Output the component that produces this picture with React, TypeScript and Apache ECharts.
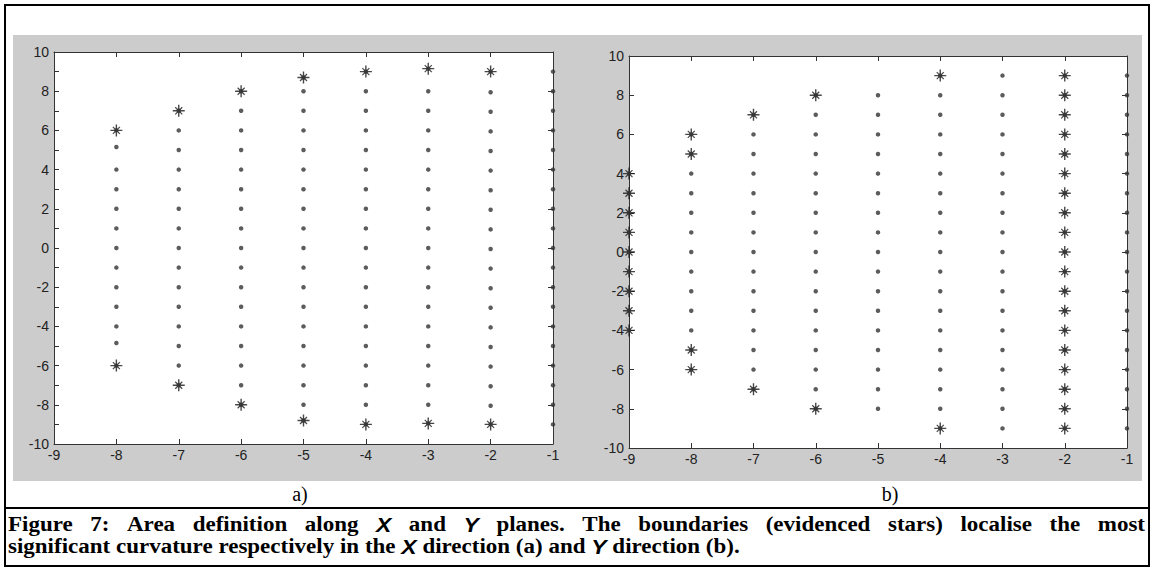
import React, { useEffect, useRef } from "react";
import * as echarts from "echarts";

// ---- axis ticks ----
const xTickValues = [-9, -8, -7, -6, -5, -4, -3, -2, -1];
const yTickValues = [-10, -8, -6, -4, -2, 0, 2, 4, 6, 8, 10];

// ---- panel a) : columns of grid points, boundaries marked by stars ----
const aColumns = [-8, -7, -6, -5, -4, -3, -2, -1];
const aDots: number[][] = [
  [5.15, 4, 3, 2, 1, 0, -1, -2, -3, -4, -4.85],
  [6, 5, 4, 3, 2, 1, 0, -1, -2, -3, -4, -5, -6],
  [7, 6, 5, 4, 3, 2, 1, 0, -1, -2, -3, -4, -5, -6, -7],
  [8, 7, 6, 5, 4, 3, 2, 1, 0, -1, -2, -3, -4, -5, -6, -7, -8],
  [8, 7, 6, 5, 4, 3, 2, 1, 0, -1, -2, -3, -4, -5, -6, -7, -8],
  [8, 7, 6, 5, 4, 3, 2, 1, 0, -1, -2, -3, -4, -5, -6, -7, -8],
  [7.95, 6.95, 5.95, 4.95, 3.95, 2.95, 1.95, 0.95, -0.05, -1.05, -2.05, -3.05, -4.05, -5.05, -6.05, -7.05, -8.05],
  [9, 8, 7, 6, 5, 4, 3, 2, 1, 0, -1, -2, -3, -4, -5, -6, -7, -8, -9],
];
const aStars: number[][] = [
  [6, -6],
  [7, -7],
  [8, -8],
  [8.7, -8.8],
  [9, -9],
  [9.15, -8.95],
  [9, -9],
  [],
];

// ---- panel b) ----
const bColumns = [-9, -8, -7, -6, -5, -4, -3, -2, -1];
const bDots: number[][] = [
  [],
  [4, 3, 2, 1, 0, -1, -2, -3, -4],
  [6, 5, 4, 3, 2, 1, 0, -1, -2, -3, -4, -5, -6],
  [7, 6, 5, 4, 3, 2, 1, 0, -1, -2, -3, -4, -5, -6, -7],
  [8, 7, 6, 5, 4, 3, 2, 1, 0, -1, -2, -3, -4, -5, -6, -7, -8],
  [8, 7, 6, 5, 4, 3, 2, 1, 0, -1, -2, -3, -4, -5, -6, -7, -8],
  [9, 8, 7, 6, 5, 4, 3, 2, 1, 0, -1, -2, -3, -4, -5, -6, -7, -8, -9],
  [],
  [9, 8, 7, 6, 5, 4, 3, 2, 1, 0, -1, -2, -3, -4, -5, -6, -7, -8, -9],
];
const bStars: number[][] = [
  [4, 3, 2, 1, 0, -1, -2, -3, -4],
  [6, 5, -5, -6],
  [7, -7],
  [8, -8],
  [],
  [9, -9],
  [],
  [9, 8, 7, 6, 5, 4, 3, 2, 1, 0, -1, -2, -3, -4, -5, -6, -7, -8, -9],
  [],
];

// ---- texts ----
const panelLabels = ["a)", "b)"];
const captionLine1 = [
  "Figure", "7:", "Area", "definition", "along", "X", "and", "Y", "planes.", "The",
  "boundaries", "(evidenced", "stars)", "localise", "the", "most",
];
const captionLine2 = [
  "significant", "curvature", "respectively", "in", "the", "X", "direction", "(a)",
  "and", "Y", "direction", "(b).",
];
const italicWords = ["X", "Y"];

const STAR_PATH =
  "path://M10.6 0h2.8v24h-2.8z M0 10.6h24v2.8h-24z M5.85 4.15L19.85 18.15L18.15 19.85L4.15 5.85z M18.15 4.15L19.85 5.85L5.85 19.85L4.15 18.15z";

function pairs(cols: number[], ys: number[][]): number[][] {
  const out: number[][] = [];
  cols.forEach((x, i) => ys[i].forEach((y) => out.push([x, y])));
  return out;
}

const AX = "#333333";
const LABEL_FONT = "Liberation Sans";
const CAP_SIZE = 20;
const CAP_SCALE_X = 1.15;

function xAxes(gridIndex: number) {
  const base = {
    type: "value" as const,
    gridIndex,
    min: xTickValues[0],
    max: xTickValues[xTickValues.length - 1],
    interval: 1,
    splitLine: { show: false },
    axisLine: { show: true, onZero: false, lineStyle: { color: AX, width: 1 } },
    axisTick: { show: true, inside: true, length: 5, lineStyle: { color: AX } },
  };
  return [
    {
      ...base,
      position: "bottom",
      axisLabel: {
        show: true, margin: 4, fontSize: 14, fontFamily: LABEL_FONT, color: "#222",
        showMinLabel: true, showMaxLabel: true,
      },
    },
    { ...base, position: "top", axisLabel: { show: false } },
  ];
}

function yAxes(gridIndex: number, minor: boolean) {
  const base = {
    type: "value" as const,
    gridIndex,
    min: yTickValues[0],
    max: yTickValues[yTickValues.length - 1],
    interval: 2,
    splitLine: { show: false },
    axisLine: { show: true, onZero: false, lineStyle: { color: AX, width: 1 } },
    axisTick: { show: true, inside: true, length: 5, lineStyle: { color: AX } },
  };
  return [
    {
      ...base,
      position: "left",
      minorTick: { show: minor, splitNumber: 2, length: 5, lineStyle: { color: AX } },
      axisLabel: {
        show: true, margin: 5, fontSize: 14, fontFamily: LABEL_FONT, color: "#222",
        showMinLabel: true, showMaxLabel: true,
      },
    },
    { ...base, position: "right", axisLabel: { show: false } },
  ];
}

function panelSeries(
  xAxisIndex: number,
  yAxisIndex: number,
  cols: number[],
  dots: number[][],
  stars: number[][]
) {
  const starData = pairs(cols, stars);
  const dotData = pairs(cols, dots).concat(starData);
  return [
    {
      type: "scatter",
      xAxisIndex,
      yAxisIndex,
      data: starData,
      symbol: STAR_PATH,
      symbolSize: 12,
      itemStyle: { color: "#1a1a1a" },
      silent: true,
      z: 3,
    },
    {
      type: "scatter",
      xAxisIndex,
      yAxisIndex,
      data: dotData,
      symbol: "circle",
      symbolSize: 4.5,
      itemStyle: { color: "#333333" },
      silent: true,
      z: 4,
    },
  ];
}

function buildCaption() {
  const ctx = document.createElement("canvas").getContext("2d")!;
  const serif = `bold ${CAP_SIZE}px "Liberation Serif"`;
  const sans = `italic bold ${CAP_SIZE}px "Liberation Sans"`;
  const fontOf = (w: string) => (italicWords.includes(w) ? sans : serif);
  const measure = (t: string, f: string) => {
    ctx.font = f;
    return ctx.measureText(t).width * CAP_SCALE_X;
  };
  const mk = (t: string, x: number, y: number) => {
    const it = italicWords.includes(t);
    return {
      type: "text",
      x,
      y,
      scaleX: CAP_SCALE_X,
      z: 10,
      style: {
        text: t,
        fontSize: CAP_SIZE,
        fontFamily: it ? LABEL_FONT : "Liberation Serif",
        fontWeight: "bold",
        fontStyle: it ? "italic" : "normal",
        fill: "#000",
        verticalAlign: "middle",
        align: "left",
      },
    };
  };
  const xL = 8;
  const xR = 1145;
  const els: any[] = [];
  // line 1 justified
  const widths = captionLine1.map((w) => measure(w, fontOf(w)));
  const total = widths.reduce((a, b) => a + b, 0);
  const gap = (xR - xL - total) / (captionLine1.length - 1);
  let x = xL;
  captionLine1.forEach((w, i) => {
    els.push(mk(w, x, 525));
    x += widths[i] + gap;
  });
  // line 2 natural spacing
  const sp = measure(" ", serif);
  x = xL;
  captionLine2.forEach((w) => {
    els.push(mk(w, x, 547));
    x += measure(w, fontOf(w)) + sp;
  });
  return els;
}

export default function App() {
  const ref = useRef<HTMLDivElement>(null);
  useEffect(() => {
    if (!ref.current) return;
    const chart = echarts.init(ref.current, undefined, { renderer: "svg" });
    const option: any = {
      animation: false,
      backgroundColor: "#ffffff",
      grid: [
        { left: 54, top: 52, width: 499, height: 392, show: true, backgroundColor: "#ffffff", borderWidth: 0, outerBoundsMode: "none", containLabel: false },
        { left: 629, top: 56, width: 498, height: 392, show: true, backgroundColor: "#ffffff", borderWidth: 0, outerBoundsMode: "none", containLabel: false },
      ],
      xAxis: [...xAxes(0), ...xAxes(1)],
      yAxis: [...yAxes(0, true), ...yAxes(1, false)],
      series: [
        ...panelSeries(0, 0, aColumns, aDots, aStars),
        ...panelSeries(2, 2, bColumns, bDots, bStars),
      ],
      graphic: [
        {
          type: "rect",
          z: -10,
          silent: true,
          shape: { x: 13, y: 35, width: 1129, height: 446 },
          style: { fill: "#cccccc" },
        },
        {
          type: "rect",
          z: 10,
          silent: true,
          shape: { x: 5, y: 5, width: 1144, height: 561 },
          style: { fill: "none", stroke: "#000", lineWidth: 2 },
        },
        {
          type: "line",
          z: 10,
          silent: true,
          shape: { x1: 5, y1: 508, x2: 1149, y2: 508 },
          style: { stroke: "#000", lineWidth: 2 },
        },
        {
          type: "text",
          x: 300,
          y: 494,
          z: 10,
          style: { text: panelLabels[0], fontSize: 20, fontFamily: "Liberation Serif", fill: "#000", align: "center", verticalAlign: "middle" },
        },
        {
          type: "text",
          x: 890,
          y: 494,
          z: 10,
          style: { text: panelLabels[1], fontSize: 20, fontFamily: "Liberation Serif", fill: "#000", align: "center", verticalAlign: "middle" },
        },
        ...buildCaption(),
      ],
    };
    chart.setOption(option);
    return () => chart.dispose();
  }, []);
  return (
    <div
      ref={ref}
      style={{ position: "absolute", left: 0, top: 0, width: 1154, height: 568 }}
    />
  );
}
